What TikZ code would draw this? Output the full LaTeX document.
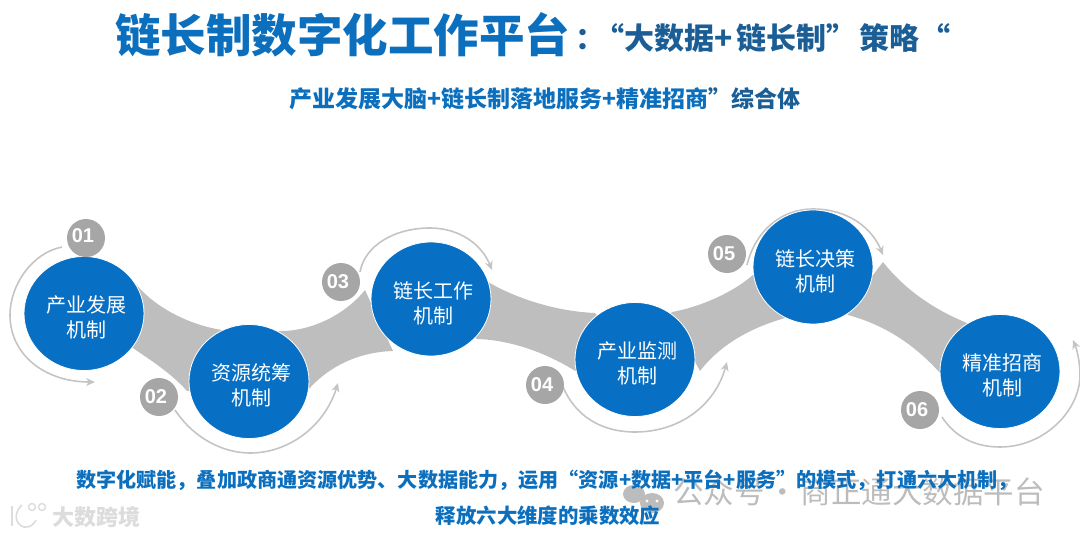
\documentclass[tikz,border=0pt]{standalone}
\usepackage{fontspec}
\setmainfont{Noto Sans CJK SC}
\newfontfamily\numfont{Liberation Sans}
\usetikzlibrary{arrows.meta,shapes.geometric}
\definecolor{mainblue}{HTML}{0770C4}
\definecolor{titleblue}{HTML}{0B6FBE}
\definecolor{darkblue}{HTML}{1B5E96}
\definecolor{bandgray}{HTML}{BEBEBE}
\definecolor{numgray}{HTML}{A6A6A6}
\definecolor{arcgray}{HTML}{C4C4C4}
\definecolor{markgray}{HTML}{BCBCBC}
\definecolor{marklight}{HTML}{DCDCDC}
\newcommand{\mechtext}[2]{\rule{0pt}{25pt}\hspace*{4.5pt}#1\\\hspace*{4.5pt}#2}
\newcommand{\numtext}[1]{\kern-6pt #1}
\tikzset{
  band/.style={fill=bandgray,draw=none},
  mech/.style={ellipse,fill=mainblue,draw=white,line width=0.8pt,minimum width=120pt,minimum height=114pt,inner sep=0pt,align=center,text=white,font=\fontsize{20}{25}\selectfont},
  num/.style={circle,fill=numgray,minimum size=38pt,inner sep=0pt,text=white,font=\numfont\bfseries\fontsize{20}{20}\selectfont},
  turn/.style={draw=arcgray,line width=1.6pt,-{Stealth[length=9pt,width=8pt,fill=arcgray]}},
  txt/.style={inner sep=0pt,anchor=west},
  note/.style={inner sep=0pt,text=titleblue,font=\bfseries\fontsize{20.1}{21}\selectfont}
}
\begin{document}
\begin{tikzpicture}[x=1pt,y=-1pt]
\useasboundingbox (0,0) rectangle (1080,536);
\coordinate (c1) at (84,313.5);
\coordinate (c2) at (249,381.5);
\coordinate (c3) at (431,299);
\coordinate (c4) at (635,359.5);
\coordinate (c5) at (813,267);
\coordinate (c6) at (1000,371.5);
% bands
\path[band] (c1) -- (135,283) .. controls (155,308) and (190,325) .. (222,330) -- (c2) -- (187,391) .. controls (170,372) and (150,360) .. (133,348) -- cycle;
\path[band] (c2) -- (278,331) .. controls (310,332) and (345,315) .. (365,290) -- (393,351) .. controls (360,352) and (330,365) .. (308,390) -- cycle;
\path[band] (c3) -- (488,282) .. controls (510,295) and (550,311) .. (595,313) -- (c4) -- (577,372) .. controls (545,352) and (510,340) .. (477,339) -- cycle;
\path[band] (c4) -- (672,312) .. controls (700,307) and (735,292) .. (755,273) -- (c5) -- (785,318) .. controls (750,328) and (720,345) .. (700,371) -- (694,360) -- cycle;
\path[band] (c5) -- (873,275) -- (883,262) .. controls (905,290) and (935,310) .. (967,323) -- (c6) -- (940,373) .. controls (915,345) and (885,325) .. (848,315) -- cycle;
% turn arrows
\coordinate (a1s) at (62,247); \coordinate (a1e) at (95,382);
\coordinate (a2s) at (175,410); \coordinate (a2e) at (338,383);
\coordinate (a3s) at (360,272); \coordinate (a3e) at (492,270);
\coordinate (a4s) at (563,387); \coordinate (a4e) at (727,362);
\coordinate (a5s) at (747,265); \coordinate (a5e) at (883,255);
\coordinate (a6s) at (942,417); \coordinate (a6e) at (1073,340);
\draw[turn] (a1s) .. controls (32,253) and (10,285) .. (10,315) .. controls (10,355) and (45,382) .. (a1e);
\draw[turn] (a2s) .. controls (195,440) and (225,453) .. (250,453) .. controls (290,453) and (325,425) .. (a2e);
\draw[turn] (a3s) .. controls (365,245) and (395,228) .. (430,228) .. controls (460,228) and (482,245) .. (a3e);
\draw[turn] (a4s) .. controls (575,415) and (600,432) .. (635,432) .. controls (680,432) and (715,405) .. (a4e);
\draw[turn] (a5s) .. controls (755,232) and (780,209) .. (813,209) .. controls (848,209) and (872,228) .. (a5e);
\draw[turn] (a6s) .. controls (955,437) and (975,447) .. (1000,447) .. controls (1045,447) and (1080,410) .. (1080,375) .. controls (1080,362) and (1077,350) .. (a6e);
% circles
\node[mech] (m1) at (c1) {\mechtext{产业发展}{机制}};
\node[mech] (m2) at (c2) {\mechtext{资源统筹}{机制}};
\node[mech] (m3) at (c3) {\mechtext{链长工作}{机制}};
\node[mech] (m4) at (c4) {\mechtext{产业监测}{机制}};
\node[mech] (m5) at (c5) {\mechtext{链长决策}{机制}};
\node[mech] (m6) at (c6) {\mechtext{精准招商}{机制}};
\node[num] (n1) at (86,238) {\raisebox{5pt}{\numtext{01}}};
\node[num] (n2) at (159,397) {\numtext{02}};
\node[num] (n3) at (341,282) {\numtext{03}};
\node[num] (n4) at (545,385) {\numtext{04}};
\node[num] (n5) at (727,254) {\numtext{05}};
\node[num] (n6) at (920,410) {\numtext{06}};
% watermarks (under the text)
\fill[markgray] (634,494) ellipse [x radius=11,y radius=9];
\fill[markgray] (652,503) ellipse [x radius=12,y radius=10];
\fill[white] (647,501) circle [radius=1.6];
\fill[white] (657,501) circle [radius=1.6];
\node[txt,text=markgray,font=\fontsize{30.5}{31}\selectfont] (w1) at (673,492) {公众号\kern-4pt{} · \kern-4pt 商正通大数据平台};
\node[txt,text=marklight,font=\bfseries\fontsize{22}{22}\selectfont] (w2) at (52,517) {大数跨境};
\draw[marklight,line width=1.6pt] (12,506) -- (12,526);
\draw[marklight,line width=1.6pt] (22,505) .. controls (14,512) and (14,524) .. (24,527) .. controls (30,528) and (34,524) .. (36,520);
\draw[marklight,line width=1.4pt] (32,507) circle [radius=3.5];
\draw[marklight,line width=1.4pt] (42,507) circle [radius=3.5];
% titles
\node[txt,text=titleblue,font=\bfseries\fontsize{45.5}{46}\selectfont] (t1) at (115,35) {链长制数字化工作平台};
\node[txt,text=darkblue,font=\bfseries\fontsize{30}{30}\selectfont] (t2) at (575,38) {：\kern-11pt “大数据+\kern4pt 链长制”\kern3pt 策略\kern1pt “};
\node[txt,text=titleblue,font=\bfseries\fontsize{23}{23}\selectfont] (t3) at (289,99) {产业发展大脑+链长制落地服务+精准招商\textcolor{darkblue}{”综合体}};
% bottom text
\node[note] (b1) at (547,480) {数字化赋能，叠加政商通资源优势、大数据能力，运用“资源+数据+平台+服务”的模式，打通六大机制，};
\node[note,font=\bfseries\fontsize{20.4}{21}\selectfont] (b2) at (548,516) {释放六大维度的乘数效应};
\end{tikzpicture}
\end{document}
